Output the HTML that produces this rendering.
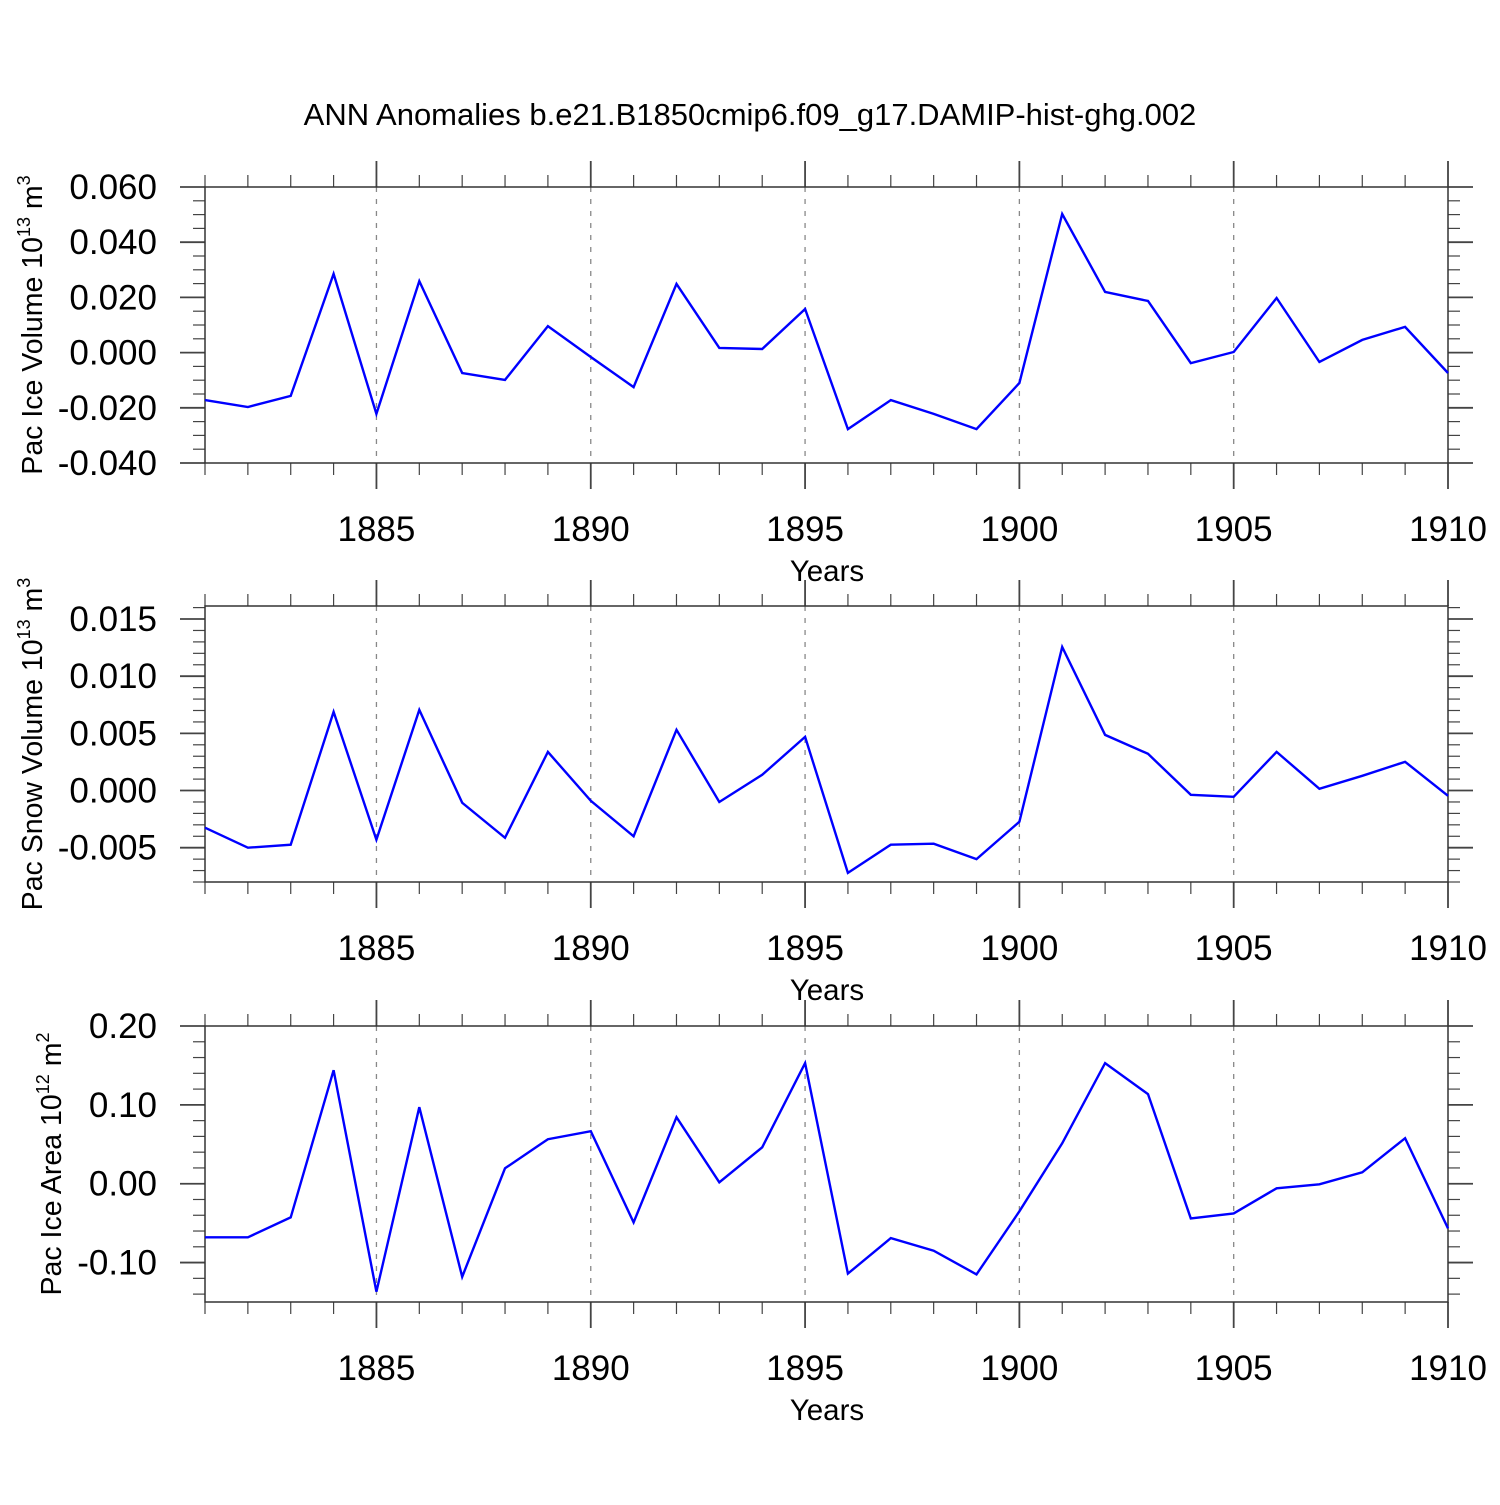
<!DOCTYPE html>
<html><head><meta charset="utf-8"><style>
html,body{margin:0;padding:0;background:#fff}
svg text{font-family:"Liberation Sans",Arial,sans-serif;fill:#000}
</style></head><body>
<svg id="chart" width="1500" height="1500" viewBox="0 0 1500 1500" xmlns="http://www.w3.org/2000/svg">
<rect width="1500" height="1500" fill="#fff"/>
<text x="750" y="125" font-size="31" text-anchor="middle">ANN Anomalies b.e21.B1850cmip6.f09_g17.DAMIP-hist-ghg.002</text>
</svg>
<script>
const years = [1881,1882,1883,1884,1885,1886,1887,1888,1889,1890,1891,1892,1893,1894,1895,1896,1897,1898,1899,1900,1901,1902,1903,1904,1905,1906,1907,1908,1909,1910];
const iceVolume = [-0.0172,-0.0197,-0.0157,0.0285,-0.0222,0.0259,-0.0074,-0.0099,0.0096,-0.0016,-0.0125,0.0249,0.0017,0.0013,0.0158,-0.0277,-0.0172,-0.0222,-0.0277,-0.011,0.0502,0.0220,0.0187,-0.0038,0.0002,0.0198,-0.0034,0.0046,0.0093,-0.0074];
const snowVolume = [-0.00325,-0.0050,-0.00474,0.00688,-0.0043,0.00705,-0.00107,-0.00413,0.00338,-0.0009,-0.0040,0.00531,-0.0010,0.00138,0.00469,-0.0072,-0.00474,-0.00465,-0.0060,-0.00273,0.01255,0.00487,0.00321,-0.00037,-0.00055,0.00338,0.00015,0.00129,0.00251,-0.00046];
const iceArea = [-0.068,-0.068,-0.0427,0.144,-0.137,0.097,-0.118,0.0196,0.0564,0.0666,-0.049,0.0844,0.0018,0.0462,0.153,-0.114,-0.069,-0.085,-0.115,-0.035,0.0513,0.153,0.1136,-0.044,-0.0376,-0.0058,-0.0008,0.0145,0.0577,-0.0567];
const xTickLabels = ["1885","1890","1895","1900","1905","1910"];
const iceVolTicks = ["0.060","0.040","0.020","0.000","-0.020","-0.040"];
const snowTicks = ["0.015","0.010","0.005","0.000","-0.005"];
const areaTicks = ["0.20","0.10","0.00","-0.10"];

const NS="http://www.w3.org/2000/svg";
const svg=document.getElementById('chart');
function mk(tag,attrs,parent){const e=document.createElementNS(NS,tag);for(const k in attrs)e.setAttribute(k,attrs[k]);(parent||svg).appendChild(e);return e;}
const X0=205,X1=1448,YR0=1881,YR1=1910;
const xs=v=>X0+(v-YR0)/(YR1-YR0)*(X1-X0);

const panels=[
 {name:'ice-volume',top:187,bot:463,vmax:0.060,vmin:-0.040,data:iceVolume,ticks:iceVolTicks,minor:0.005,title:'Pac Ice Volume 10',sup:'13',unit:' m',usup:'3',tx:42},
 {name:'snow-volume',top:606,bot:882,vmax:0.01614,vmin:-0.008,data:snowVolume,ticks:snowTicks,minor:0.001,title:'Pac Snow Volume 10',sup:'13',unit:' m',usup:'3',tx:42},
 {name:'ice-area',top:1026,bot:1302,vmax:0.2,vmin:-0.15,data:iceArea,ticks:areaTicks,minor:0.02,title:'Pac Ice Area 10',sup:'12',unit:' m',usup:'2',tx:61}
];
panels.forEach(p=>{
 const g=mk('g',{});
 
 
 const ys=v=>p.top+(p.vmax-v)/(p.vmax-p.vmin)*(p.bot-p.top);
 xTickLabels.forEach(t=>{const x=xs(+t);if(x<X1-1){const l=mk('line',{x1:x,x2:x,y1:p.top,y2:p.bot,stroke:'#888','stroke-width':1.3,'stroke-dasharray':'5,7'},g);
  }});
 years.forEach(yv=>{const x=xs(yv);const maj=yv%5===0;const len=maj?26:12;
  mk('line',{x1:x,x2:x,y1:p.top-len,y2:p.top,stroke:'#444','stroke-width':maj?1.8:1.2},g);
  mk('line',{x1:x,x2:x,y1:p.bot,y2:p.bot+len,stroke:'#444','stroke-width':maj?1.8:1.2},g);});
 xTickLabels.forEach(t=>{const tx=mk('text',{x:xs(+t),y:p.bot+78,'font-size':35,'text-anchor':'middle'},g);tx.textContent=t;
  });
 const xt=mk('text',{x:827,y:p.bot+118,'font-size':29.5,'text-anchor':'middle'},g);xt.textContent='Years';
 
 const majVals=p.ticks.map(Number);
 const step=Math.abs(majVals[0]-majVals[1]);
 for(let v=majVals[majVals.length-1]-step;v<=p.vmax+1e-9;v+=p.minor){
  if(v<p.vmin-1e-9)continue;const y=ys(v);
  const isMaj=majVals.some(m=>Math.abs(m-v)<p.minor/10);const len=isMaj?25:12;
  mk('line',{x1:X0-len,x2:X0,y1:y,y2:y,stroke:'#444','stroke-width':isMaj?1.8:1.2},g);
  mk('line',{x1:X1,x2:X1+len,y1:y,y2:y,stroke:'#444','stroke-width':isMaj?1.8:1.2},g);}
 p.ticks.forEach(t=>{const tx=mk('text',{x:157,y:ys(+t)+12,'font-size':35,'text-anchor':'end'},g);tx.textContent=t;
  });
 const fr=mk('rect',{x:X0,y:p.top,width:X1-X0,height:p.bot-p.top,fill:'none',stroke:'#333','stroke-width':1.5},g);
 
 const cy=(p.top+p.bot)/2;
 const yt=mk('text',{x:p.tx,y:cy,'font-size':28.5,'text-anchor':'middle',transform:`rotate(-90 ${p.tx} ${cy})`},g);
 
 yt.appendChild(document.createTextNode(p.title));
 const s1=mk('tspan',{'font-size':18,dy:-12},yt);s1.textContent=p.sup;
 const s2=mk('tspan',{dy:12},yt);s2.textContent=p.unit;
 const s3=mk('tspan',{'font-size':18,dy:-12},yt);s3.textContent=p.usup;
 const pts=p.data.map((v,i)=>xs(years[i]).toFixed(1)+','+ys(v).toFixed(1)).join(' ');
 const pl=mk('polyline',{points:pts,fill:'none',stroke:'#0000ff','stroke-width':2.4,'stroke-linejoin':'miter'},g);
 
});
</script>
</body></html>
